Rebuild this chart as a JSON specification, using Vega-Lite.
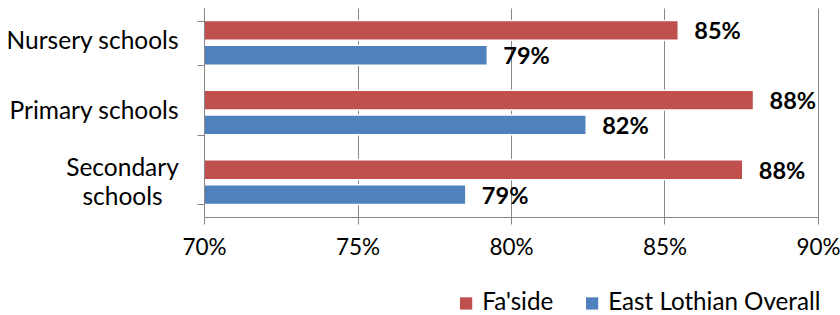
{
  "$schema": "https://vega.github.io/schema/vega-lite/v6.json",
  "width": 614,
  "height": 209,
  "autosize": "none",
  "padding": {"left": 204, "top": 8, "right": 22, "bottom": 98},
  "background": "white",
  "config": {
    "view": {"stroke": null},
    "font": "Lato",
    "axis": {"labelFont": "Lato", "labelColor": "#000000", "domainColor": "#868686", "tickColor": "#868686", "gridColor": "#868686"},
    "legend": {"labelFont": "Lato", "labelFontSize": 24.2, "labelColor": "#000000", "labelLimit": 400}
  },
  "data": {
    "values": [
      {"category": "Nursery schools", "series": "Fa'side", "value": 0.8545},
      {"category": "Nursery schools", "series": "East Lothian Overall", "value": 0.7923},
      {"category": "Primary schools", "series": "Fa'side", "value": 0.879},
      {"category": "Primary schools", "series": "East Lothian Overall", "value": 0.8245},
      {"category": "Secondary schools", "series": "Fa'side", "value": 0.8755},
      {"category": "Secondary schools", "series": "East Lothian Overall", "value": 0.7853}
    ]
  },
  "encoding": {
    "y": {
      "field": "category",
      "type": "nominal",
      "sort": ["Nursery schools", "Primary schools", "Secondary schools"],
      "scale": {"paddingInner": 0.36, "paddingOuter": 0.18},
      "axis": {
        "title": null,
        "zindex": 1,
        "tickBand": "extent",
        "tickSize": 7,
        "labelPadding": {"condition": {"test": "datum.value == 'Secondary schools'", "value": 75}, "value": 19},
        "labelAlign": {"condition": {"test": "datum.value == 'Secondary schools'", "value": "center"}, "value": "right"},
        "labelOffset": {"condition": {"test": "datum.value == 'Secondary schools'", "value": -14}, "value": -1},
        "labelFontSize": 24.5,
        "labelLineHeight": 29,
        "labelLimit": 300,
        "labelExpr": "datum.value == 'Secondary schools' ? ['Secondary', 'schools'] : datum.value"
      }
    },
    "yOffset": {
      "field": "series",
      "type": "nominal",
      "sort": ["Fa'side", "East Lothian Overall"],
      "scale": {"paddingInner": 0.2, "paddingOuter": 0}
    },
    "x": {
      "field": "value",
      "type": "quantitative",
      "scale": {"domain": [0.7, 0.9], "nice": false, "zero": false},
      "axis": {
        "title": null,
        "values": [0.7, 0.75, 0.8, 0.85, 0.9],
        "format": ".0%",
        "grid": true,
        "tickSize": 7,
        "labelPadding": 12,
        "labelFlush": false,
        "labelFontSize": 22.5
      }
    }
  },
  "layer": [
    {
      "mark": {"type": "bar", "stroke": "white", "strokeWidth": 1.5, "clip": true},
      "encoding": {
        "x2": {"datum": 0.7},
        "color": {
          "field": "series",
          "type": "nominal",
          "sort": ["Fa'side", "East Lothian Overall"],
          "scale": {"domain": ["Fa'side", "East Lothian Overall"], "range": ["#C0504D", "#4F81BD"]},
          "legend": {
            "title": null,
            "orient": "none",
            "direction": "horizontal",
            "legendX": 250,
            "legendY": 283,
            "symbolType": "square",
            "symbolSize": 150,
            "symbolStrokeWidth": 0,
            "columnPadding": 26,
            "labelOffset": 4
          }
        }
      }
    },
    {
      "mark": {"type": "text", "align": "left", "baseline": "middle", "dx": 16, "dy": 2, "font": "Lato", "fontWeight": "bold", "fontSize": 23.5, "color": "#000000"},
      "encoding": {
        "text": {"field": "value", "type": "quantitative", "format": ".0%"}
      }
    }
  ]
}
